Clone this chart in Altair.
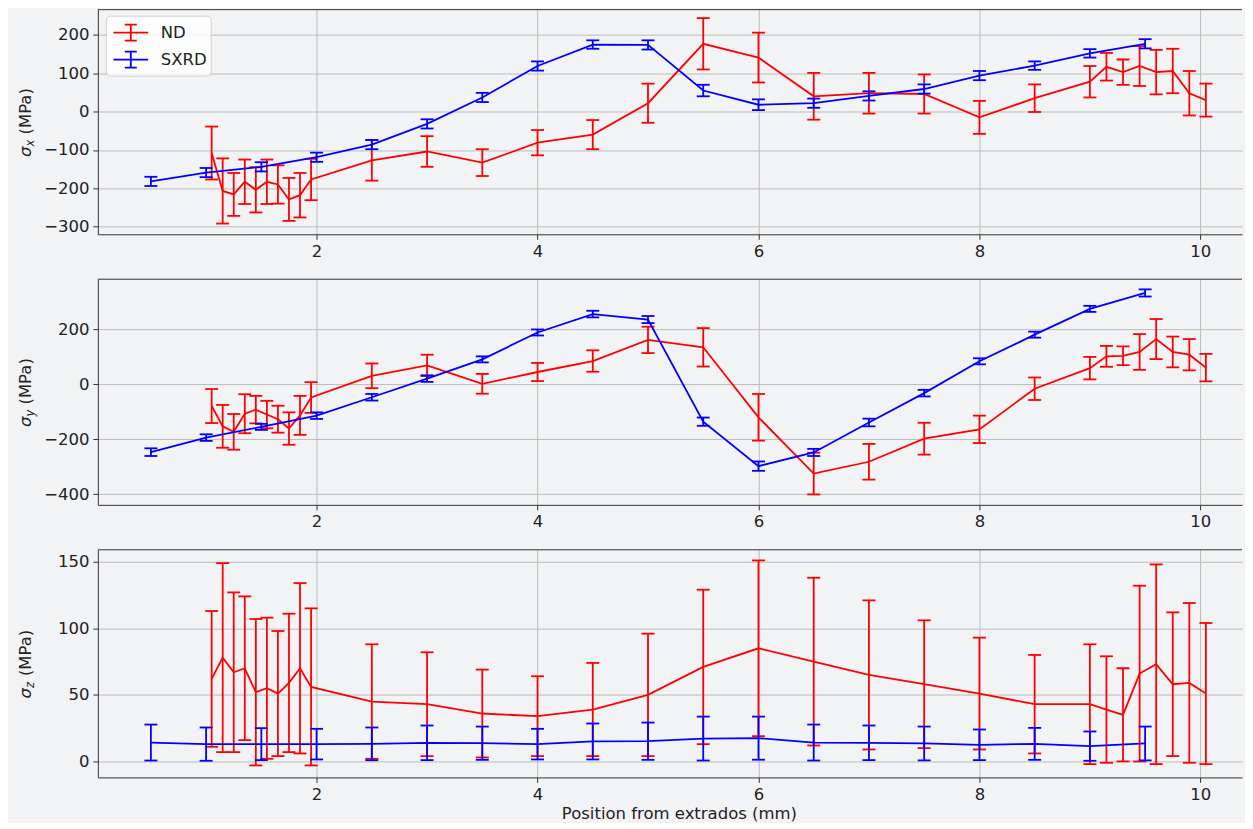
import altair as alt
import pandas as pd

FONT = "DejaVu Sans"
BG = "#f2f3f5"
RED = "#ff0000"
BLUE = "#0000ff"

# ---------------- data ----------------
nd_x = [1.05, 1.15, 1.25, 1.35, 1.45, 1.55, 1.65, 1.75, 1.85, 1.95,
        2.5, 3.0, 3.5, 4.0, 4.5, 5.0, 5.5, 6.0, 6.5, 7.0, 7.5, 8.0, 8.5, 9.0,
        9.15, 9.3, 9.45, 9.6, 9.75, 9.9, 10.05]
sxrd_x = [0.5, 1.0, 1.5, 2.0, 2.5, 3.0, 3.5, 4.0, 4.5, 5.0,
          5.5, 6.0, 6.5, 7.0, 7.5, 8.0, 8.5, 9.0, 9.5]

nd_sx = [-108, -207, -216, -183, -204, -183, -190, -229, -218, -177,
         -127, -104, -133, -81, -60, 22, 177, 141, 40, 48, 46, -15, 35, 78,
         117, 103, 119, 103, 106, 48, 30]
nd_sx_err = [69, 85, 56, 58, 59, 58, 50, 56, 58, 54,
             53, 40, 35, 33, 38, 51, 67, 65, 61, 53, 51, 43, 36, 41,
             36, 33, 52, 58, 58, 58, 43]
sxrd_sx = [-182, -159, -144, -119, -86, -32, 37, 119, 175, 174,
           55, 18, 22, 41, 59, 94, 120, 152, 177]
sxrd_sx_err = [12, 12, 12, 12, 12, 12, 12, 12, 11, 12,
               15, 14, 12, 12, 12, 12, 11, 11, 12]

nd_sy = [-79, -153, -173, -107, -92, -110, -127, -161, -113, -48,
         31, 69, 2, 45, 85, 162, 135, -120, -325, -282, -198, -164, -16, 59,
         102, 104, 118, 165, 118, 108, 61]
nd_sy_err = [62, 78, 65, 71, 50, 50, 49, 59, 71, 56,
             45, 39, 36, 33, 39, 48, 70, 85, 76, 65, 58, 50, 41, 41,
             38, 34, 65, 73, 56, 57, 50]
sxrd_sy = [-247, -194, -155, -114, -47, 21, 91, 189, 256, 236,
           -136, -298, -248, -139, -32, 84, 181, 275, 333]
sxrd_sy_err = [14, 12, 11, 12, 12, 12, 11, 11, 12, 13,
               15, 17, 13, 14, 12, 11, 11, 11, 13]

nd_sz = [62, 78, 67, 70, 52, 55, 51, 59, 70, 56,
         45, 43, 36, 34, 39, 50, 71, 85, 75, 65, 58, 51, 43, 43,
         39, 35, 66, 73, 58, 59, 51]
nd_sz_err = [51, 71, 60, 54, 55, 53, 47, 52, 64, 59,
             43, 39, 33, 30, 35, 46, 58, 66, 63, 56, 48, 42, 37, 45,
             40, 35, 66, 75, 54, 60, 53]
sxrd_sz = [14.2, 13, 13, 13, 13.2, 14, 13.7, 13, 15, 15.2,
           17.2, 17.5, 14.2, 14, 13.5, 12.5, 13.2, 11.5, 13.5]
sxrd_sz_err = [13.5, 12.5, 12, 11.5, 12.3, 13, 12.5, 11.5, 13.5, 14,
               16.5, 16.2, 13.5, 13, 12.7, 11.5, 12, 11, 12.7]

series_names = ["ND", "SXRD"]
x_ticks = [2, 4, 6, 8, 10]
x_title = "Position from extrados (mm)"

# ---------------- layout ----------------
W = 1146
X_MIN = 0.02
X_MAX = X_MIN + W / 110.65
CAP = 13
LW = 1.8
FS = 16.5
LEG_PATH = "M-1.45,0L1.45,0M0,-0.67L0,0.67M-0.5,-0.67L0.5,-0.67M-0.5,0.67L0.5,0.67"

color_scale = alt.Scale(domain=series_names, range=[RED, BLUE])


def make_panel(nd_v, nd_e, sx_v, sx_e, ydom, yticks, sub, height, show_legend, show_xtitle):
    rows = []
    for x, v, e in zip(nd_x, nd_v, nd_e):
        rows.append({"x": x, "v": v, "lo": v - e, "hi": v + e, "series": "ND"})
    for x, v, e in zip(sxrd_x, sx_v, sx_e):
        rows.append({"x": x, "v": v, "lo": v - e, "hi": v + e, "series": "SXRD"})
    df = pd.DataFrame(rows)

    if show_legend:
        legend = alt.Legend(
            orient="none", legendX=8, legendY=6, title=None,
            symbolType=LEG_PATH, symbolSize=576, symbolStrokeWidth=LW,
            symbolOffset=8, labelOffset=17, padding=4, rowPadding=2,
            labelFont=FONT, labelFontSize=FS, labelColor="#222",
            fillColor="rgba(255,255,255,0.8)", strokeColor="#d0d0d0",
            cornerRadius=4,
        )
    else:
        legend = None
    color = alt.Color("series:N", scale=color_scale, legend=legend)

    if show_xtitle:
        xaxis = alt.Axis(values=x_ticks, title=x_title, labelFlush=False,
                         titleX=582, titleY=41, titleBaseline="alphabetic",
                         titleAnchor="start", titleAlign="center")
    else:
        xaxis = alt.Axis(values=x_ticks, title=None, labelFlush=False)
    xenc = alt.X("x:Q", scale=alt.Scale(domain=[X_MIN, X_MAX], nice=False, zero=False), axis=xaxis)
    yscale = alt.Scale(domain=ydom, nice=False, zero=False)
    yaxis = alt.Axis(values=yticks, title=None, labelFlush=False)

    layers = []
    for s in series_names:
        base = alt.Chart(df).transform_filter(alt.datum.series == s)
        layers.append(base.mark_line(strokeWidth=LW).encode(
            x=xenc, y=alt.Y("v:Q", scale=yscale, axis=yaxis), color=color))
        layers.append(base.mark_rule(strokeWidth=LW).encode(
            x=xenc, y=alt.Y("lo:Q", scale=yscale, axis=yaxis), y2="hi:Q", color=color))
        for f in ["lo", "hi"]:
            layers.append(base.mark_tick(orient="horizontal", size=CAP, thickness=LW, opacity=1).encode(
                x=xenc, y=alt.Y(f + ":Q", scale=yscale, axis=yaxis), color=color))

    # top frame line
    one = alt.Data(values=[{"k": 0}])
    layers.append(alt.Chart(one).mark_rule(color="#333", strokeWidth=1).encode(
        x=alt.value(0), x2=alt.value(W), y=alt.value(0)))

    # y-axis title: sigma with subscript
    y0 = height / 2 + 35
    bx = -67
    layers.append(alt.Chart(one).mark_text(
        text="σ", angle=270, align="left", baseline="alphabetic", font=FONT,
        fontSize=FS, fontStyle="italic", color="#222").encode(x=alt.value(bx), y=alt.value(y0)))
    layers.append(alt.Chart(one).mark_text(
        text=sub, angle=270, align="left", baseline="alphabetic", font=FONT,
        fontSize=11.5, fontStyle="italic", color="#222").encode(x=alt.value(bx + 3), y=alt.value(y0 - 10.5)))
    layers.append(alt.Chart(one).mark_text(
        text="(MPa)", angle=270, align="left", baseline="alphabetic", font=FONT,
        fontSize=FS, color="#222").encode(x=alt.value(bx), y=alt.value(y0 - 10.5 - 6.8 - 5.2)))

    return alt.layer(*layers).properties(width=W, height=height)


top = make_panel(nd_sx, nd_sx_err, sxrd_sx, sxrd_sx_err, [-320, 266],
                 [-300, -200, -100, 0, 100, 200], "x", 225, True, False)
mid = make_panel(nd_sy, nd_sy_err, sxrd_sy, sxrd_sy_err, [-439, 383],
                 [-400, -200, 0, 200], "y", 226, False, False)
bot = make_panel(nd_sz, nd_sz_err, sxrd_sz, sxrd_sz_err, [-12, 159],
                 [0, 50, 100, 150], "z", 228, False, True)

chart = alt.vconcat(top, mid, bot, spacing=18).resolve_scale(
    x="independent", y="independent", color="independent"
).properties(
    padding={"left": 9, "top": 0, "right": 2, "bottom": 0},
    background=BG,
).configure_view(strokeWidth=0).configure_axis(
    labelFont=FONT, labelFontSize=FS, labelColor="#222",
    tickColor="#333", tickSize=5, tickWidth=1,
    domainColor="#333", domainWidth=1,
    grid=True, gridColor="#bcbcbc", gridWidth=1,
    labelPadding=4,
    titleFont=FONT, titleFontSize=FS, titleFontWeight="normal", titleColor="#222",
)

chart.save("out.html", embed_options={"renderer": "svg", "actions": False})
